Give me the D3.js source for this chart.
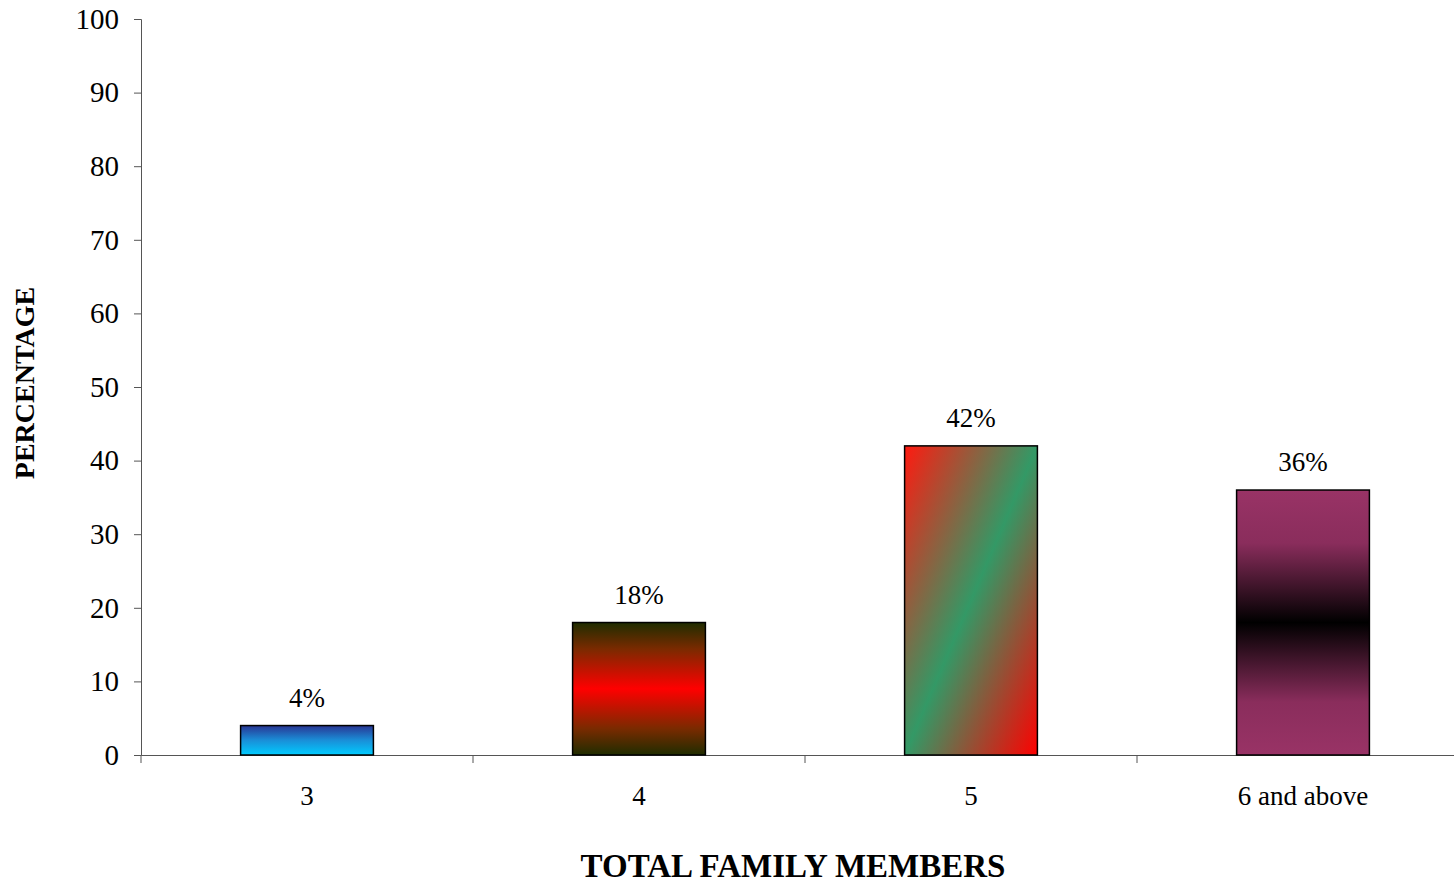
<!DOCTYPE html>
<html><head><meta charset="utf-8">
<script src="https://cdn.jsdelivr.net/npm/d3@7"></script>
<style>
body{margin:0;background:#fff;}
svg text{font-family:"Liberation Serif","Times New Roman",serif !important;}
</style></head>
<body>
<svg id="c" width="1454" height="885" font-family="Liberation Serif, Times New Roman, serif"></svg>
<script>
const categories = ["3", "4", "5", "6 and above"];
const values = [4, 18, 42, 36];
const valueLabels = ["4%", "18%", "42%", "36%"];
const yTicks = [0, 10, 20, 30, 40, 50, 60, 70, 80, 90, 100];

const FONT = "Liberation Serif, Times New Roman, serif";
const svg = d3.select("#c");
const x = d3.scaleBand().domain(categories).range([141, 1469]).paddingInner(0.6).paddingOuter(0.3);
const y = d3.scaleLinear().domain([0, 100]).range([755, 19]);

const defs = svg.append("defs");
function lin(id, x1, y1, x2, y2, stops) {
  const g = defs.append("linearGradient").attr("id", id)
    .attr("x1", x1).attr("y1", y1).attr("x2", x2).attr("y2", y2);
  stops.forEach(s => g.append("stop").attr("offset", s[0]).attr("stop-color", s[1]));
}
lin("g0", 0, 0, 0, 1, [[0, "#283593"], [0.5, "#1a8fd8"], [1, "#00ccff"]]);
lin("g1", 0, 0, 0, 1, [[0, "#1f2d00"], [0.2, "#7a2a00"], [0.5, "#ff0000"], [0.8, "#7a2a00"], [1, "#1f2d00"]]);
lin("g2", 0, 0, 1, 1, [[0, "#ff1a10"], [0.5, "#339966"], [1, "#ff0000"]]);
lin("g3", 0, 0, 0, 1, [[0, "#993366"], [0.2, "#8a2d5c"], [0.5, "#000000"], [0.8, "#8a2d5c"], [1, "#993366"]]);

// Y axis
const yAxis = d3.axisLeft(y).tickValues(yTicks).tickSize(7).tickPadding(15);
const gy = svg.append("g").attr("transform", "translate(141,0)").call(yAxis)
  .attr("font-family", FONT).attr("font-size", 29);
gy.selectAll("text").attr("fill", "#000");
gy.selectAll("line").attr("stroke", "#555");
gy.select(".domain").attr("stroke", "#555");

// X axis
const xAxis = d3.axisBottom(x).tickSize(0).tickPadding(34);
const gx = svg.append("g").attr("transform", "translate(0,755)").call(xAxis)
  .attr("font-family", FONT).attr("font-size", 27);
gx.selectAll("text").attr("fill", "#000").attr("dy", "0.6em");
gx.select(".domain").attr("stroke", "#555");
// category separator ticks
const sepX = d3.range(categories.length + 1).map(i => x.range()[0] + i * x.step());
svg.append("g").selectAll("line").data(sepX).join("line")
  .attr("x1", d => d).attr("x2", d => d).attr("y1", 755).attr("y2", 763)
  .attr("stroke", "#555");

// Bars
svg.append("g").selectAll("rect").data(values).join("rect")
  .attr("x", (d, i) => x(categories[i]))
  .attr("y", d => y(d))
  .attr("width", x.bandwidth())
  .attr("height", d => y(0) - y(d))
  .attr("fill", (d, i) => `url(#g${i})`)
  .attr("stroke", "#000").attr("stroke-width", 1.5);

// Value labels
svg.append("g").selectAll("text").data(values).join("text")
  .attr("x", (d, i) => x(categories[i]) + x.bandwidth() / 2)
  .attr("y", d => y(d) - 19)
  .attr("text-anchor", "middle").attr("font-size", 27).attr("fill", "#000")
  .text((d, i) => valueLabels[i]);

// Axis titles
svg.append("text").attr("x", 793).attr("y", 877).attr("text-anchor", "middle")
  .attr("font-size", 33).attr("font-weight", "bold").text("TOTAL FAMILY MEMBERS");
svg.append("text").attr("transform", "translate(34,383) rotate(-90)").attr("text-anchor", "middle")
  .attr("font-size", 28).attr("font-weight", "bold").text("PERCENTAGE");
</script>
</body></html>
